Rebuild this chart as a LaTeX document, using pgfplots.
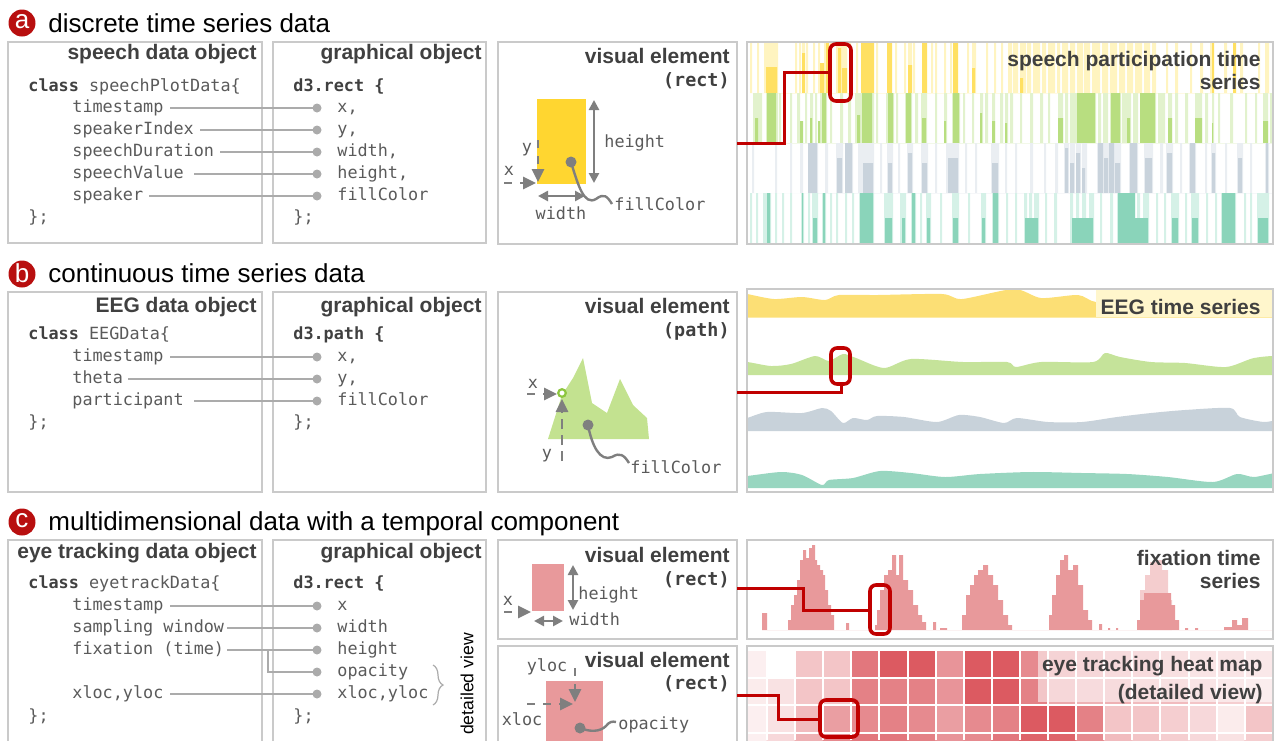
\documentclass[border=0pt]{standalone}
\usepackage{pgfplots}
\pgfplotsset{compat=1.18}
\usepackage{fontspec}
\setmainfont{Liberation Sans}
\setmonofont{DejaVu Sans Mono}
\usetikzlibrary{arrows.meta,decorations.pathreplacing}
\definecolor{boxg}{HTML}{CACACA}
\definecolor{headg}{HTML}{404040}
\definecolor{codeg}{HTML}{5A5A5A}
\definecolor{cong}{HTML}{ABABAB}
\definecolor{arrg}{HTML}{7F7F7F}
\definecolor{cred}{HTML}{C00000}
\definecolor{circred}{HTML}{B80F0F}
\definecolor{ryel}{HTML}{FFD630}
\definecolor{syL}{HTML}{FFF4C0}
\definecolor{syD}{HTML}{FFE062}
\definecolor{sgL}{HTML}{E2F2CD}
\definecolor{sgD}{HTML}{B8DE80}
\definecolor{saL}{HTML}{EAEEF2}
\definecolor{saD}{HTML}{C9D3DC}
\definecolor{stL}{HTML}{D5F1E7}
\definecolor{stD}{HTML}{8AD4BA}
\definecolor{eY}{HTML}{FCDF75}
\definecolor{eYL}{HTML}{FFF6CC}
\definecolor{eG}{HTML}{C5E39A}
\definecolor{eA}{HTML}{C8D2DA}
\definecolor{eT}{HTML}{98D6C0}
\definecolor{pinkc}{HTML}{E8999B}
\definecolor{pinkL}{HTML}{F4CDCE}
\definecolor{mgreen}{HTML}{C3E290}
\definecolor{mgreenD}{HTML}{8DC63F}
\newcommand\ttl{\fontsize{13}{15}\selectfont}
\newcommand\hd{\fontsize{10.5}{12}\selectfont\bfseries}
\newcommand\cd{\fontsize{8.4}{10}\selectfont\ttfamily}
\newcommand\condot[1]{\fill[cong] #1 circle (4.5);}
\pgfplotsset{rowax/.style={anchor=north west, width=262pt, height=25pt, scale only axis, hide axis, xmin=748, xmax=1272, ymin=0, ymax=50, enlargelimits=false}}
\begin{document}
\begin{tikzpicture}[x=0.5pt,y=-0.5pt,
  hd/.style={anchor=base east, inner sep=0pt, font=\hd, text=headg},
  hm/.style={anchor=base east, inner sep=0pt, font=\fontsize{9.2}{11}\selectfont\ttfamily\bfseries, text=headg},
  cd/.style={anchor=base west, inner sep=0pt, font=\cd, text=codeg},
  ttl/.style={anchor=base west, inner sep=0pt, font=\ttl, text=black},
  bx/.style={draw=boxg, line width=0.8pt},
  con/.style={draw=cong, line width=1pt},
  ga/.style={draw=arrg, line width=1.3pt, -{Triangle[length=6.5pt,width=6pt]}},
  gd/.style={draw=arrg, line width=1.3pt, {Triangle[length=5pt,width=5pt]}-{Triangle[length=5pt,width=5pt]}},
  rl/.style={draw=cred, line width=1.5pt},
  rb/.style={draw=cred, line width=1.8pt, rounded corners=3pt}]
\useasboundingbox (0,0) rectangle (1276,740);
\clip (0,0) rectangle (1276,740);
% ---------------- titles
\fill[circred] (22,23) circle (13.5); \node[text=white,font=\ttl,inner sep=0] at (22,22) {a};
\node[ttl] at (48,32) {discrete time series data};
\fill[circred] (22,274) circle (13.5); \node[text=white,font=\ttl,inner sep=0] at (22,273) {b};
\node[ttl] at (48,282) {continuous time series data};
\fill[circred] (22,522) circle (13.5); \node[text=white,font=\ttl,inner sep=0] at (22,521) {c};
\node[ttl] at (48,530) {multidimensional data with a temporal component};
% ---------------- boxes
\draw[bx] (8,42) rectangle (262,243); \draw[bx] (273,42) rectangle (486,243);
\draw[bx] (498,42) rectangle (737,244);
\draw[bx] (8,292) rectangle (262,492); \draw[bx] (273,292) rectangle (486,492);
\draw[bx] (498,292) rectangle (737,492);
\draw[bx] (8,540) rectangle (262,760); \draw[bx] (273,540) rectangle (486,760);
\draw[bx] (498,540) rectangle (737,639); \draw[bx] (498,646) rectangle (737,760);
% ---------------- panel a code
\node[hd] at (257,59) {speech data object};
\node[hd] at (482,59) {graphical object};
\node[cd] at (28,91) {{\color{headg}\textbf{class}} speechPlotData\{};
\node[cd] at (72,112) {timestamp};
\node[cd] at (72,134) {speakerIndex};
\node[cd] at (72,156) {speechDuration};
\node[cd] at (72,178) {speechValue};
\node[cd] at (72,200) {speaker};
\node[cd] at (28,222) {\};};
\node[cd] at (293,91) {{\color{headg}\textbf{d3.rect \{}}};
\node[cd] at (337,112) {x,};
\node[cd] at (337,134) {y,};
\node[cd] at (337,156) {width,};
\node[cd] at (337,178) {height,};
\node[cd] at (337,200) {fillColor};
\node[cd] at (293,222) {\};};
\draw[con] (170,108)--(317,108); \condot{(317,108)}
\draw[con] (200,130)--(317,130); \condot{(317,130)}
\draw[con] (220,152)--(317,152); \condot{(317,152)}
\draw[con] (194,174)--(317,174); \condot{(317,174)}
\draw[con] (149,196)--(317,196); \condot{(317,196)}
% ---------------- panel b code
\node[hd] at (257,312) {EEG data object};
\node[hd] at (482,312) {graphical object};
\node[cd] at (28,339) {{\color{headg}\textbf{class}} EEGData\{};
\node[cd] at (72,361) {timestamp};
\node[cd] at (72,383) {theta};
\node[cd] at (72,405) {participant};
\node[cd] at (28,427) {\};};
\node[cd] at (293,339) {{\color{headg}\textbf{d3.path \{}}};
\node[cd] at (337,361) {x,};
\node[cd] at (337,383) {y,};
\node[cd] at (337,405) {fillColor};
\node[cd] at (293,427) {\};};
\draw[con] (170,357)--(317,357); \condot{(317,357)}
\draw[con] (128,379)--(317,379); \condot{(317,379)}
\draw[con] (194,401)--(317,401); \condot{(317,401)}
% ---------------- panel c code
\node[hd] at (257,558) {eye tracking data object};
\node[hd] at (482,558) {graphical object};
\node[cd] at (28,588) {{\color{headg}\textbf{class}} eyetrackData\{};
\node[cd] at (72,610) {timestamp};
\node[cd] at (72,632) {sampling window};
\node[cd] at (72,654) {fixation (time)};
\node[cd] at (72,698) {xloc,yloc};
\node[cd] at (28,721) {\};};
\node[cd] at (293,588) {{\color{headg}\textbf{d3.rect \{}}};
\node[cd] at (337,610) {x};
\node[cd] at (337,632) {width};
\node[cd] at (337,654) {height};
\node[cd] at (337,676) {opacity};
\node[cd] at (337,698) {xloc,yloc};
\node[cd] at (293,721) {\};};
\draw[con] (170,606)--(317,606); \condot{(317,606)}
\draw[con] (227,628)--(317,628); \condot{(317,628)}
\draw[con] (227,650)--(317,650); \condot{(317,650)}
\draw[con] (268,650)--(268,672)--(317,672); \condot{(317,672)}
\draw[con] (170,694)--(317,694); \condot{(317,694)}
\draw[draw=cong, line width=0.6pt, decorate, decoration={brace, amplitude=5pt}] (433,665)--(433,705);
\node[rotate=90, inner sep=0, font=\fontsize{8.8}{10}\selectfont, text=black] at (467,684) {detailed view};
% ---------------- box3 a
\node[hd] at (730,63) {visual element};
\node[hm] at (730,86) {(rect)};
\fill[ryel] (537,99) rectangle (586,184);
\draw[gd] (594,100)--(594,183);
\node[cd] at (604,147) {height};
\draw[gd] (538,196)--(585,196);
\node[cd, anchor=base] at (561,219) {width};
\node[cd, anchor=base] at (509,175) {x};
\draw[ga, dash pattern=on 4pt off 4pt] (504,183)--(536,183);
\node[cd, anchor=base] at (527,152) {y};
\draw[ga, dash pattern=on 4pt off 4pt] (538,140)--(538,182);
\fill[arrg] (571,162) circle (5.5);
\draw[draw=arrg, line width=1.2pt] (571,162) .. controls (578,185) and (584,206) .. (596,199) .. controls (604,193) and (607,196) .. (612,204);
\node[cd] at (614,210) {fillColor};
% ---------------- box3 b
\node[hd] at (730,313) {visual element};
\node[hm] at (730,336) {(path)};
\fill[mgreen] (548,439)--(562,395)--(573,378)--(583,358)--(592,403)--(607,413)--(620,379)--(633,405)--(647,418)--(649,439)--cycle;
\node[cd, anchor=base] at (533,388) {x};
\draw[ga, dash pattern=on 4pt off 4pt] (527,394)--(557,394);
\node[cd, anchor=base] at (547,458) {y};
\draw[ga, dash pattern=on 5pt off 3pt] (562,461)--(562,399);
\draw[draw=mgreenD, line width=1.1pt, fill=white] (562,393) circle (3.8);
\fill[arrg] (588,425) circle (5.5);
\draw[draw=arrg, line width=1.2pt] (588,425) .. controls (592,446) and (600,462) .. (612,457) .. controls (620,452) and (624,455) .. (629,463);
\node[cd] at (630,473) {fillColor};
% ---------------- box3 c upper
\node[hd] at (730,562) {visual element};
\node[hm] at (730,585) {(rect)};
\fill[pinkc] (532,564) rectangle (564,611);
\draw[gd] (573,565)--(573,610);
\node[cd] at (578,599) {height};
\draw[gd] (534,621)--(563,621);
\node[cd] at (569,625) {width};
\node[cd, anchor=base] at (508,605) {x};
\draw[ga, dash pattern=on 4pt off 4pt] (504,612)--(531,612);
% ---------------- box3 c lower
\node[hd] at (730,667) {visual element};
\node[hm] at (730,689) {(rect)};
\fill[pinkc] (546,681) rectangle (603,745);
\node[cd, anchor=base] at (547,671) {yloc};
\draw[ga, dash pattern=on 4pt off 4pt] (575,668)--(575,702);
\node[cd, anchor=base] at (522,725) {xloc};
\draw[ga, dash pattern=on 4pt off 4pt] (527,704)--(573,704);
\fill[arrg] (580,728) circle (5.5);
\draw[draw=arrg, line width=1.2pt] (580,728) .. controls (590,732) and (600,732) .. (606,726) .. controls (609,722) and (612,721) .. (616,722);
\node[cd] at (618,729) {opacity};
% ================= box4 a: speech bars
\begin{axis}[rowax, at={(374pt,-21.5pt)}]
\addplot[ybar interval, fill=syL, draw=none] coordinates {(750,50)(752,0)(757,50)(759,0)(764,50)(778,0)(795,50)(797,0)(799,50)(801,0)(802,50)(805,0)(806,50)(808,0)(813,50)(815,0)(818,50)(820,0)(824,50)(826,0)(830,50)(832,0)(836,50)(847,0)(849,50)(851,0)(856,50)(858,0)(876,50)(878,0)(895,50)(897,0)(904,50)(906,0)(908,50)(912,0)(913,50)(915,0)(931,50)(933,0)(935,50)(937,0)(944,50)(946,0)(950,50)(952,0)(967,50)(969,0)(972,50)(976,0)(986,50)(988,0)(994,50)(996,0)(1001,50)(1003,0)(1008,50)(1012,0)(1013,50)(1018,0)(1020,50)(1026,0)(1027,50)(1031,0)(1033,50)(1040,0)(1042,50)(1046,0)(1048,50)(1055,0)(1057,50)(1060,0)(1062,50)(1068,0)(1070,50)(1075,0)(1077,50)(1083,0)(1084,50)(1090,0)(1092,50)(1100,0)(1102,50)(1108,0)(1110,50)(1117,0)(1119,50)(1125,0)(1127,50)(1133,0)(1135,50)(1142,0)(1144,50)(1150,0)(1152,50)(1156,0)(1166,50)(1168,0)(1175,50)(1178,0)(1190,50)(1192,0)(1200,50)(1203,0)(1210,50)(1212,0)(1224,50)(1227,0)(1240,50)(1243,0)(1258,50)(1260,0)(1265,50)(1269,0)(1272,0)};
\addplot[ybar interval, fill=syD, draw=none] coordinates {(766,26)(777,0)(802,40)(805,0)(820,30)(824,0)(826,50)(829,0)(838,45)(841,0)(842,25)(847,0)(861,50)(874,0)(887,50)(892,0)(908,28)(912,0)(922,50)(927,0)(953,50)(958,0)(972,25)(975,0)(1020,15)(1023,0)(1212,50)(1214,0)(1233,50)(1236,0)(1272,0)};
\end{axis}
\begin{axis}[rowax, at={(374pt,-46.5pt)}]
\addplot[ybar interval, fill=sgL, draw=none] coordinates {(753,50)(762,0)(766,50)(778,0)(779,50)(781,0)(790,50)(792,0)(797,50)(800,0)(805,50)(807,0)(810,50)(813,0)(815,50)(817,0)(820,50)(827,0)(830,50)(832,0)(840,50)(843,0)(848,50)(851,0)(855,50)(874,0)(876,50)(878,0)(886,50)(894,0)(896,50)(898,0)(905,50)(912,0)(915,50)(918,0)(921,50)(927,0)(935,50)(937,0)(944,50)(947,0)(952,50)(960,0)(963,50)(965,0)(972,50)(974,0)(980,50)(983,0)(985,50)(988,0)(992,50)(995,0)(1000,50)(1003,0)(1005,50)(1008,0)(1010,50)(1013,0)(1020,50)(1022,0)(1030,50)(1033,0)(1040,50)(1043,0)(1048,50)(1050,0)(1058,50)(1063,0)(1065,50)(1068,0)(1070,50)(1096,0)(1098,50)(1101,0)(1103,50)(1108,0)(1110,50)(1121,0)(1122,50)(1131,0)(1133,50)(1138,0)(1140,50)(1156,0)(1158,50)(1165,0)(1168,50)(1172,0)(1175,50)(1178,0)(1185,50)(1188,0)(1195,50)(1202,0)(1205,50)(1208,0)(1212,50)(1214,0)(1218,50)(1220,0)(1230,50)(1233,0)(1245,50)(1247,0)(1255,50)(1257,0)(1263,50)(1268,0)(1270,50)(1272,0)};
\addplot[ybar interval, fill=sgD, draw=none] coordinates {(755,25)(758,0)(767,50)(776,0)(800,22)(803,0)(810,25)(812,0)(818,22)(820,0)(822,50)(826,0)(857,28)(860,0)(862,50)(872,0)(888,50)(893,0)(906,50)(911,0)(922,25)(926,0)(944,22)(946,0)(953,50)(959,0)(980,30)(982,0)(992,22)(995,0)(1005,20)(1007,0)(1058,25)(1063,0)(1077,50)(1095,0)(1111,50)(1120,0)(1127,25)(1130,0)(1140,50)(1155,0)(1168,25)(1172,0)(1195,25)(1202,0)(1212,20)(1213,0)(1263,22)(1268,0)(1272,0)};
\end{axis}
\begin{axis}[rowax, at={(374pt,-71.5pt)}]
\addplot[ybar interval, fill=saL, draw=none] coordinates {(752,50)(754,0)(775,50)(777,0)(790,50)(792,0)(800,50)(803,0)(808,50)(818,0)(825,50)(828,0)(836,50)(843,0)(845,50)(853,0)(858,50)(874,0)(880,50)(882,0)(887,50)(893,0)(898,50)(900,0)(907,50)(913,0)(921,50)(928,0)(935,50)(937,0)(946,50)(959,0)(965,50)(967,0)(975,50)(977,0)(991,50)(999,0)(1005,50)(1007,0)(1015,50)(1017,0)(1030,50)(1033,0)(1044,50)(1046,0)(1055,50)(1058,0)(1064,50)(1069,0)(1070,50)(1075,0)(1076,50)(1081,0)(1082,50)(1087,0)(1097,50)(1121,0)(1129,50)(1138,0)(1144,50)(1153,0)(1160,50)(1163,0)(1166,50)(1173,0)(1180,50)(1182,0)(1189,50)(1196,0)(1205,50)(1207,0)(1211,50)(1216,0)(1225,50)(1227,0)(1237,50)(1243,0)(1250,50)(1252,0)(1265,50)(1269,0)(1272,0)};
\addplot[ybar interval, fill=saD, draw=none] coordinates {(808,50)(817,0)(837,35)(842,0)(845,50)(852,0)(863,30)(873,0)(888,30)(892,0)(908,40)(912,0)(922,30)(927,0)(948,35)(958,0)(992,30)(998,0)(1065,45)(1068,0)(1070,30)(1074,0)(1076,40)(1080,0)(1082,25)(1085,0)(1098,50)(1103,0)(1104,35)(1108,0)(1109,50)(1114,0)(1115,30)(1120,0)(1130,50)(1137,0)(1145,35)(1152,0)(1167,40)(1172,0)(1190,50)(1195,0)(1212,40)(1215,0)(1238,35)(1242,0)(1266,50)(1268,0)(1272,0)};
\end{axis}
\begin{axis}[rowax, at={(374pt,-96.5pt)}]
\addplot[ybar interval, fill=stL, draw=none] coordinates {(750,50)(752,0)(756,50)(758,0)(763,50)(771,0)(775,50)(777,0)(782,50)(784,0)(790,50)(792,0)(801,50)(804,0)(808,50)(810,0)(812,50)(818,0)(822,50)(826,0)(830,50)(832,0)(836,50)(838,0)(845,50)(847,0)(852,50)(854,0)(859,50)(874,0)(884,50)(893,0)(900,50)(906,0)(911,50)(916,0)(920,50)(922,0)(926,50)(931,0)(940,50)(942,0)(952,50)(959,0)(968,50)(970,0)(981,50)(986,0)(992,50)(999,0)(1006,50)(1008,0)(1015,50)(1017,0)(1024,50)(1027,0)(1029,50)(1032,0)(1034,50)(1039,0)(1045,50)(1047,0)(1054,50)(1057,0)(1070,50)(1073,0)(1076,50)(1079,0)(1082,50)(1086,0)(1089,50)(1094,0)(1100,50)(1102,0)(1110,50)(1113,0)(1117,50)(1135,0)(1137,50)(1140,0)(1143,50)(1149,0)(1156,50)(1158,0)(1164,50)(1166,0)(1171,50)(1179,0)(1185,50)(1187,0)(1191,50)(1199,0)(1206,50)(1208,0)(1215,50)(1217,0)(1221,50)(1236,0)(1244,50)(1246,0)(1250,50)(1252,0)(1257,50)(1269,0)(1272,0)};
\addplot[ybar interval, fill=stD, draw=none] coordinates {(767,50)(770,0)(802,50)(803,0)(813,25)(817,0)(823,50)(825,0)(860,50)(873,0)(885,25)(892,0)(902,25)(905,0)(912,50)(915,0)(927,25)(930,0)(953,25)(958,0)(982,25)(985,0)(993,50)(998,0)(1025,25)(1038,0)(1072,25)(1093,0)(1118,50)(1135,0)(1135,25)(1148,0)(1172,25)(1178,0)(1192,25)(1198,0)(1222,50)(1235,0)(1258,25)(1268,0)(1272,0)};
\end{axis}
\draw[bx] (747,42) rectangle (1273,244);
\node[hd] at (1261,66) {speech participation time};
\node[hd] at (1261,89) {series};
% ================= box4 b: EEG
\begin{axis}[anchor=north west, at={(374pt,-145pt)}, width=262pt, height=100.5pt, scale only axis, hide axis, xmin=748, xmax=1272, ymin=290, ymax=491, y dir=reverse, enlargelimits=false]
\addplot[fill=eY, draw=none, smooth, tension=0.45] coordinates {(740,317.5)(740,294)(747,294)(774,299)(802,297)(825,300)(839,295)(877,295)(942,294)(962,299)(1014,289)(1041,298)(1078,295)(1096,302)(1130,298)(1180,297)(1230,296)(1280,297)(1280,317.5)} --cycle;
\addplot[fill=eG, draw=none, smooth, tension=0.45] coordinates {(740,375)(740,364)(747,362)(771,366)(791,364)(815,356)(829,361)(843,354)(856,358)(884,368)(911,359)(963,362)(1007,362)(1016,367)(1041,362)(1093,362)(1105,353)(1120,357)(1151,362)(1185,363)(1226,367)(1254,358)(1280,357)(1280,375)} --cycle;
\addplot[fill=eA, draw=none, smooth, tension=0.45] coordinates {(740,431)(740,418)(747,418)(767,412)(802,413)(822,408)(831,411)(843,423)(853,418)(867,420)(877,416)(904,417)(937,422)(959,415)(980,417)(1004,423)(1017,418)(1048,422)(1082,422)(1117,417)(1151,413)(1185,410)(1230,408)(1240,417)(1264,422)(1280,420)(1280,431)} --cycle;
\addplot[fill=eT, draw=none, smooth, tension=0.45] coordinates {(740,488)(740,476)(747,476)(781,472)(802,475)(822,485)(829,480)(853,478)(880,471)(911,473)(945,477)(980,474)(1031,472)(1082,473)(1127,474)(1168,477)(1213,482)(1237,474)(1254,477)(1280,473)(1280,488)} --cycle;
\end{axis}
\fill[eYL] (1096,290) rectangle (1272,317);
\draw[bx] (747,289) rectangle (1273,492);
\node[hd] at (1261,314) {EEG time series};
% ================= box4 c upper: fixation
\begin{axis}[anchor=north west, at={(374pt,-270.5pt)}, width=262pt, height=44.5pt, scale only axis, hide axis, xmin=748, xmax=1272, ymin=0, ymax=89, enlargelimits=false]
\addplot[ybar interval, fill=pinkL, draw=none] coordinates {(1140,40)(1145,55)(1150,68)(1156,70)(1162,60)(1168,30)(1172,0)};
\addplot[ybar interval, fill=pinkc, draw=none] coordinates {(762,17)(767,0)(788,10)(791,25)(794,35)(797,50)(800,70)(803,80)(806,72)(809,82)(812,85)(815,70)(817,65)(820,60)(823,55)(825,40)(828,25)(831,15)(834,0)(846,7)(849,0)(875,5)(877,20)(880,40)(884,55)(888,60)(892,75)(896,55)(899,75)(903,50)(908,40)(913,25)(918,15)(922,8)(926,0)(933,8)(936,0)(940,2)(947,0)(962,15)(966,35)(970,45)(974,55)(978,60)(983,65)(988,55)(993,45)(998,30)(1003,15)(1008,5)(1012,0)(1049,15)(1052,35)(1056,55)(1060,70)(1064,75)(1068,60)(1073,65)(1078,45)(1083,20)(1088,10)(1092,0)(1099,6)(1102,0)(1108,2)(1110,0)(1116,2)(1118,0)(1137,10)(1140,30)(1144,37)(1171,25)(1175,10)(1179,0)(1185,2)(1188,0)(1195,2)(1198,0)(1224,3)(1232,10)(1237,5)(1242,12)(1248,0)(1272,0)};
\end{axis}
\draw[bx] (747,540) rectangle (1273,639);
\node[hd] at (1261,565) {fixation time};
\node[hd] at (1261,588) {series};
% ================= box4 c lower: heat map
\begin{axis}[anchor=north west, at={(374pt,-324pt)}, width=262pt, height=46pt, scale only axis, xmin=748, xmax=1272, ymin=648, ymax=740, y dir=reverse, enlargelimits=false,
  axis on top, axis line style={draw=none}, tick style={draw=none}, xticklabels={}, yticklabels={},
  xtick={767,795.1,823.2,851.3,879.4,907.5,935.6,963.7,991.8,1019.9,1048,1076.1,1104.2,1132.3,1160.4,1188.5,1216.6,1244.7},
  ytick={649.85,677.55,705.25,732.95}, grid=major, major grid style={white, line width=1pt},
  colormap={heat}{rgb255=(255,255,255) rgb255=(214,62,70)}, point meta min=0, point meta max=1]
\addplot[matrix plot*, mesh/cols=19, point meta=explicit] table[meta=c] {
x y c
752.9 663.7 0.08
781.0 663.7 0.0
809.1 663.7 0.3
837.2 663.7 0.3
865.3 663.7 0.7
893.4 663.7 0.85
921.5 663.7 0.85
949.6 663.7 0.55
977.7 663.7 0.85
1005.8 663.7 0.85
1033.9 663.7 0.6
1062.0 663.7 0.5
1090.1 663.7 0.45
1118.2 663.7 0.4
1146.3 663.7 0.4
1174.4 663.7 0.35
1202.5 663.7 0.3
1230.6 663.7 0.3
1258.7 663.7 0.25
752.9 691.4 0.1
781.0 691.4 0.15
809.1 691.4 0.3
837.2 691.4 0.3
865.3 691.4 0.65
893.4 691.4 0.65
921.5 691.4 0.65
949.6 691.4 0.55
977.7 691.4 0.85
1005.8 691.4 0.85
1033.9 691.4 0.65
1062.0 691.4 0.45
1090.1 691.4 0.4
1118.2 691.4 0.4
1146.3 691.4 0.35
1174.4 691.4 0.35
1202.5 691.4 0.3
1230.6 691.4 0.25
1258.7 691.4 0.2
752.9 719.1 0.08
781.0 719.1 0.15
809.1 719.1 0.35
837.2 719.1 0.5
865.3 719.1 0.6
893.4 719.1 0.65
921.5 719.1 0.6
949.6 719.1 0.5
977.7 719.1 0.6
1005.8 719.1 0.65
1033.9 719.1 0.85
1062.0 719.1 0.85
1090.1 719.1 0.65
1118.2 719.1 0.3
1146.3 719.1 0.3
1174.4 719.1 0.25
1202.5 719.1 0.2
1230.6 719.1 0.1
1258.7 719.1 0.3
752.9 746.8 0.08
781.0 746.8 0.2
809.1 746.8 0.4
837.2 746.8 0.6
865.3 746.8 0.7
893.4 746.8 0.7
921.5 746.8 0.65
949.6 746.8 0.55
977.7 746.8 0.6
1005.8 746.8 0.7
1033.9 746.8 0.8
1062.0 746.8 0.8
1090.1 746.8 0.6
1118.2 746.8 0.35
1146.3 746.8 0.3
1174.4 746.8 0.25
1202.5 746.8 0.2
1230.6 746.8 0.15
1258.7 746.8 0.25
};
\end{axis}
\fill[white, opacity=0.55] (1038,648) rectangle (1272,702);
\draw[bx] (747,646) rectangle (1273,760);
\node[hd] at (1263,671) {eye tracking heat map};
\node[hd] at (1263,699) {(detailed view)};
% ================= red connectors
\draw[rl] (737,143)--(784,143)--(784,72)--(830,72);
\draw[rb] (830,44) rectangle (851,101);
\draw[rl] (737,392)--(841,392)--(841,384);
\draw[rb] (831,348) rectangle (850,384);
\draw[rl] (737,588)--(803,588)--(803,610)--(870,610);
\draw[rb] (870,585) rectangle (890,634);
\draw[rl] (737,695)--(778,695)--(778,719)--(820,719);
\draw[rb] (820,700) rectangle (858,737);
\end{tikzpicture}
\end{document}
